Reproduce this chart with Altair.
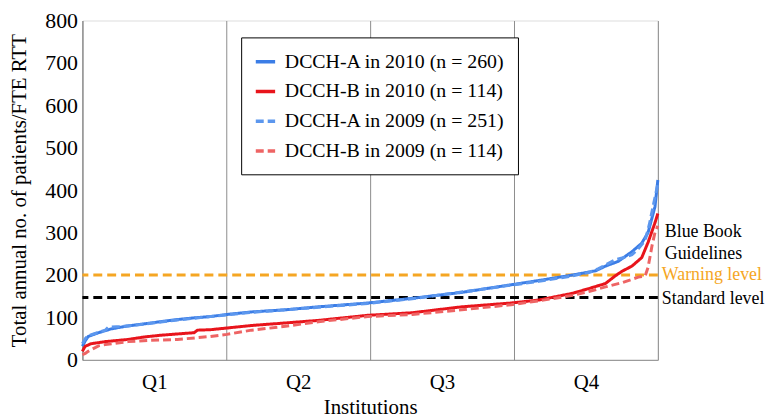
import altair as alt
import pandas as pd

# ---------------- data ----------------
series_names = [
    "DCCH-A in 2010 (n = 260)",
    "DCCH-B in 2010 (n = 114)",
    "DCCH-A in 2009 (n = 251)",
    "DCCH-B in 2009 (n = 114)",
]

# percentile position of institution (0-100) and annual patients / FTE RTT
a2010_x = [0, 0.5, 1.0, 2.8, 5.0, 7.9, 10.8, 13.6, 16.5, 19.4, 22.2, 25.1, 29.4, 35.3, 41.0,
           49.6, 57.3, 65.9, 74.5, 79.3, 85.2, 89.2, 90.9, 93.1, 95.5, 97.2, 98.3, 99.5, 100]
a2010_y = [32, 45, 55, 64, 73, 80, 85, 90, 95, 99, 102, 107, 113, 118, 125,
           134, 145, 159, 177, 187, 200, 210, 221, 232, 255, 275, 300, 361, 424]

b2010_x = [0, 0.3, 0.5, 1.5, 4.0, 7.9, 10.8, 13.6, 16.5, 19.4, 20.0, 22.2, 25.1, 29.4, 35.3,
           41.0, 49.6, 57.3, 65.9, 74.5, 79.3, 85.2, 88.0, 90.9, 92.6, 93.8, 95.5, 97.2, 98.3,
           99.5, 100]
b2010_y = [20, 28, 32, 38, 43, 48, 54, 58, 61, 64, 70, 71, 75, 81, 87,
           93, 105, 111, 125, 134, 141, 157, 168, 180, 198, 209, 221, 241, 277,
           323, 345]

a2009_x = [0, 0.5, 1.0, 2.2, 4.0, 4.5, 5.9, 6.5, 7.9, 10.8, 13.6, 16.5, 19.4, 22.2, 25.1,
           29.4, 35.3, 41.0, 49.6, 57.3, 65.9, 74.5, 79.3, 85.2, 88.0, 89.7, 91.5, 92.6, 93.8,
           95.5, 96.6, 97.8, 98.5, 99.3, 100]
a2009_y = [38, 50, 57, 62, 70, 77, 78, 78, 80, 84, 89, 94, 98, 102, 106,
           112, 118, 124, 133, 144, 160, 176, 185, 198, 206, 215, 228, 236, 240,
           248, 262, 282, 318, 370, 415]

b2009_x = [0, 0.5, 1.0, 2.8, 4.0, 7.9, 11.7, 16.5, 22.2, 25.1, 29.4, 35.3, 41.0, 49.6, 57.3,
           65.9, 74.5, 79.3, 85.2, 88.0, 90.9, 93.8, 96.6, 97.8, 98.3, 99.0, 99.5, 100]
b2009_y = [12, 15, 20, 33, 36, 43, 46, 48, 55, 60, 70, 79, 90, 102, 107,
           118, 130, 139, 152, 161, 172, 182, 195, 198, 218, 270, 300, 316]

series_x = [a2010_x, b2010_x, a2009_x, b2009_x]
series_y = [a2010_y, b2010_y, a2009_y, b2009_y]
series_colors = ["#3b7de6", "#e8141b", "#5c97ee", "#ee6464"]
series_dash = [[1, 0], [1, 0], [8, 4], [8, 4]]

quarter_labels = ["Q1", "Q2", "Q3", "Q4"]
warning_level = 200
standard_level = 147

rows = []
for name, xs, ys in zip(series_names, series_x, series_y):
    for x, y in zip(xs, ys):
        rows.append({"pct": x, "value": y, "series": name})
df = pd.DataFrame(rows)

# ---------------- chart ----------------
FONT = "Liberation Serif"
W, H = 580, 342

q_vals = [0, 12.5, 25, 37.5, 50, 62.5, 75, 87.5, 100]
label_expr = "".join(
    f"datum.value == {12.5 + 25 * i} ? '{q}' : " for i, q in enumerate(quarter_labels)
) + "''"

x_axis = alt.Axis(
    values=q_vals,
    labelExpr=label_expr,
    ticks=False,
    labelOverlap=False,
    labelFlush=False,
    gridOpacity={"condition": {"test": "datum.value % 25 == 0", "value": 1}, "value": 0},
    gridColor="#8c8c8c",
    domainColor="#8c8c8c",
    labelFont=FONT,
    labelFontSize=21,
    labelColor="black",
    labelPadding=12,
    titleFont=FONT,
    titleFontSize=21,
    titleFontWeight="normal",
    titleColor="black",
    titlePadding=4,
)

y_axis = alt.Axis(
    values=list(range(0, 801, 100)),
    ticks=False,
    gridColor="#a0a0a0",
    domainColor="#8c8c8c",
    labelFont=FONT,
    labelFontSize=22,
    labelColor="black",
    labelPadding=5,
    titleFont=FONT,
    titleFontSize=21,
    titleFontWeight="normal",
    titleColor="black",
    titlePadding=15,
)

legend = alt.Legend(
    orient="none",
    legendX=160,
    legendY=17,
    title=None,
    strokeColor="black",
    fillColor="white",
    padding=13,
    labelFont=FONT,
    labelFontSize=20,
    labelColor="black",
    labelLimit=400,
    labelOffset=8,
    symbolType="stroke",
    symbolSize=380,
    symbolStrokeWidth=3.5,
    rowPadding=8,
)

lines = alt.Chart(df).mark_line(strokeWidth=3).encode(
    x=alt.X("pct:Q", scale=alt.Scale(domain=[0, 100], nice=False), axis=x_axis, title="Institutions"),
    y=alt.Y("value:Q", scale=alt.Scale(domain=[0, 800], nice=False), axis=y_axis,
            title="Total annual no. of patients/FTE RTT"),
    color=alt.Color("series:N", scale=alt.Scale(domain=series_names, range=series_colors), legend=legend),
    strokeDash=alt.StrokeDash("series:N", scale=alt.Scale(domain=series_names, range=series_dash), legend=legend),
)

warn_rule = alt.Chart().mark_rule(color="#f5a623", strokeWidth=3, strokeDash=[9, 5]).encode(
    y=alt.datum(warning_level)
)
std_rule = alt.Chart().mark_rule(color="black", strokeWidth=3, strokeDash=[9, 5]).encode(
    y=alt.datum(standard_level)
)

bb_text = alt.Chart().mark_text(
    text=["Blue Book", "Guidelines"], align="left", baseline="middle", font=FONT,
    fontSize=18, color="black", lineHeight=22
).encode(x=alt.value(W + 7), y=alt.datum(302))

warn_text = alt.Chart().mark_text(
    text="Warning level", align="left", baseline="middle", font=FONT, fontSize=18, color="#f5a623"
).encode(x=alt.value(W + 4), y=alt.datum(warning_level))

std_text = alt.Chart().mark_text(
    text="Standard level", align="left", baseline="middle", font=FONT, fontSize=18, color="black"
).encode(x=alt.value(W + 4), y=alt.datum(143))

chart = alt.layer(warn_rule, std_rule, lines, bb_text, warn_text, std_text).properties(
    width=W, height=H, padding={"left": 1, "top": 0, "right": 0, "bottom": 0}
).configure_view(stroke=None).configure(background="white")

chart.save("out.html", embed_options={"renderer": "svg", "actions": False})
